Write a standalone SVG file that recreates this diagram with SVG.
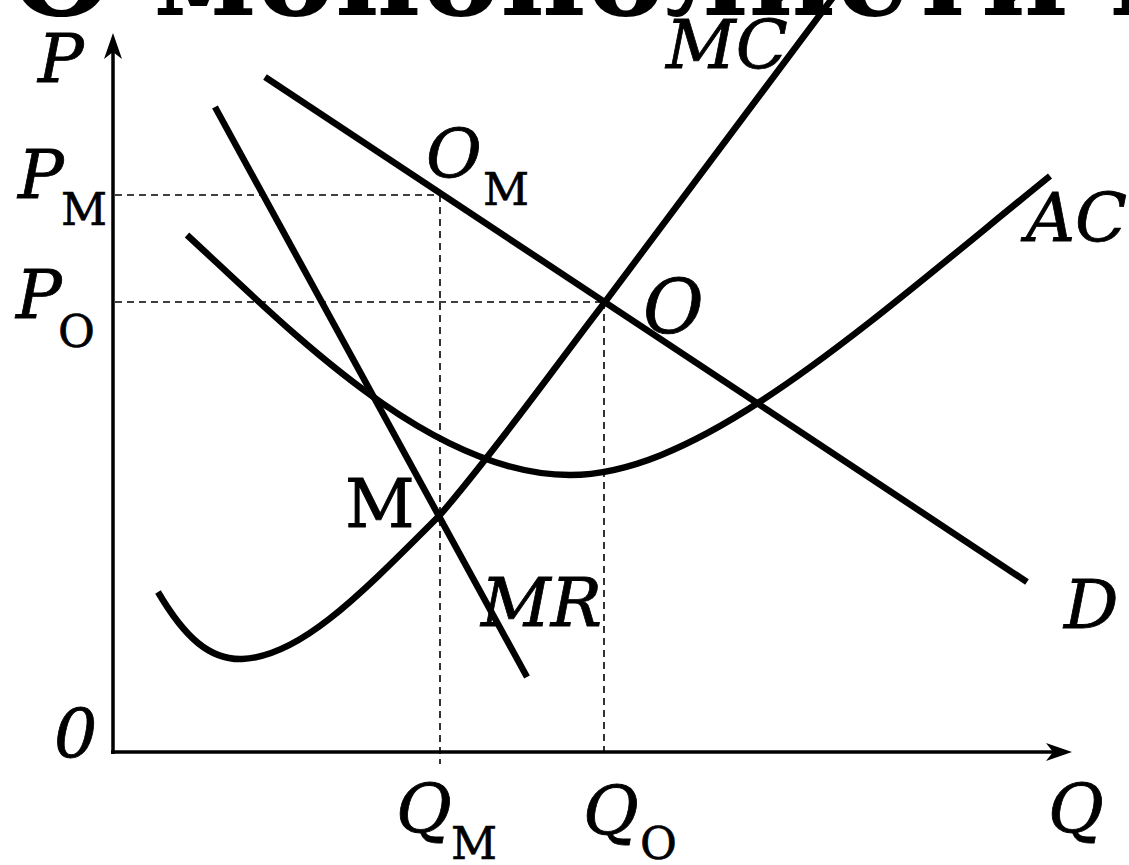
<svg xmlns="http://www.w3.org/2000/svg" width="1129" height="865" viewBox="0 0 1129 865">
<style>
.curve{fill:none;stroke:#000;stroke-width:6.5;stroke-linecap:butt}
.axis{fill:none;stroke:#000;stroke-width:3.5}
.dash{fill:none;stroke:#000;stroke-width:1.6;stroke-dasharray:7 5}
.lab{font-family:"DejaVu Serif",serif;font-style:italic;font-size:68px;fill:#000;stroke:#000;stroke-width:0.8}
.up{font-family:"DejaVu Serif",serif;font-size:68px;fill:#000;stroke:#000;stroke-width:0.8}
.sub{font-family:"DejaVu Serif",serif;font-size:45px;fill:#000;stroke:#000;stroke-width:0.6}
.title{font-family:"DejaVu Serif",serif;font-weight:bold;font-size:118px;fill:#000}
</style>
<rect width="1129" height="865" fill="#fff"/>
<text class="title" x="10" y="15">О монополистической</text>
<g id="axes">
<line class="axis" x1="113" y1="754" x2="113" y2="45"/>
<path d="M113,33 L104,59 L113,52 L122,59 Z" fill="#000"/>
<line class="axis" x1="111" y1="752" x2="1060" y2="752"/>
<path d="M1072,752 L1046,743 L1053,752 L1046,761 Z" fill="#000"/>
</g>
<g id="guides">
<line class="dash" x1="115" y1="195" x2="440" y2="195"/>
<line class="dash" x1="115" y1="302" x2="605" y2="302"/>
<line class="dash" x1="440" y1="195" x2="440" y2="764"/>
<line class="dash" x1="604" y1="302" x2="604" y2="752"/>
</g>
<g id="curves">
<path id="D" class="curve" d="M265,77 L1027,582"/>
<path id="MR" class="curve" d="M215,107 L527,677"/>
<path id="MC" class="curve" d="M158,592 C185,638 210,660 242,659 C300,657 360,595 440,515 C500,445 560,360 605,302 L834,-4"/>
<path id="AC" class="curve" d="M187,235 C290,330 430,475 570,475 C700,475 860,330 1050,176"/>
</g>
<g id="labels">
<text class="lab" x="38" y="82">P</text>
<text class="lab" x="666" y="68">MC</text>
<text class="lab" x="18" y="198">P</text>
<text class="sub" x="61" y="225">M</text>
<text class="lab" x="16" y="318">P</text>
<text class="sub" x="58" y="347">O</text>
<text class="lab" x="426" y="177">O</text>
<text class="sub" x="483" y="205">M</text>
<text class="lab" x="1026" y="241">AC</text>
<text class="lab" x="643" y="333" style="font-size:74px">O</text>
<text class="up" x="345" y="527">M</text>
<text class="lab" x="481" y="626">MR</text>
<text class="lab" x="1064" y="628">D</text>
<text class="lab" x="54" y="757">0</text>
<text class="lab" x="396" y="832">Q</text>
<text class="sub" x="451" y="859">M</text>
<text class="lab" x="583" y="834">Q</text>
<text class="sub" x="640" y="859">O</text>
<text class="lab" x="1048" y="832">Q</text>
</g>
</svg>
